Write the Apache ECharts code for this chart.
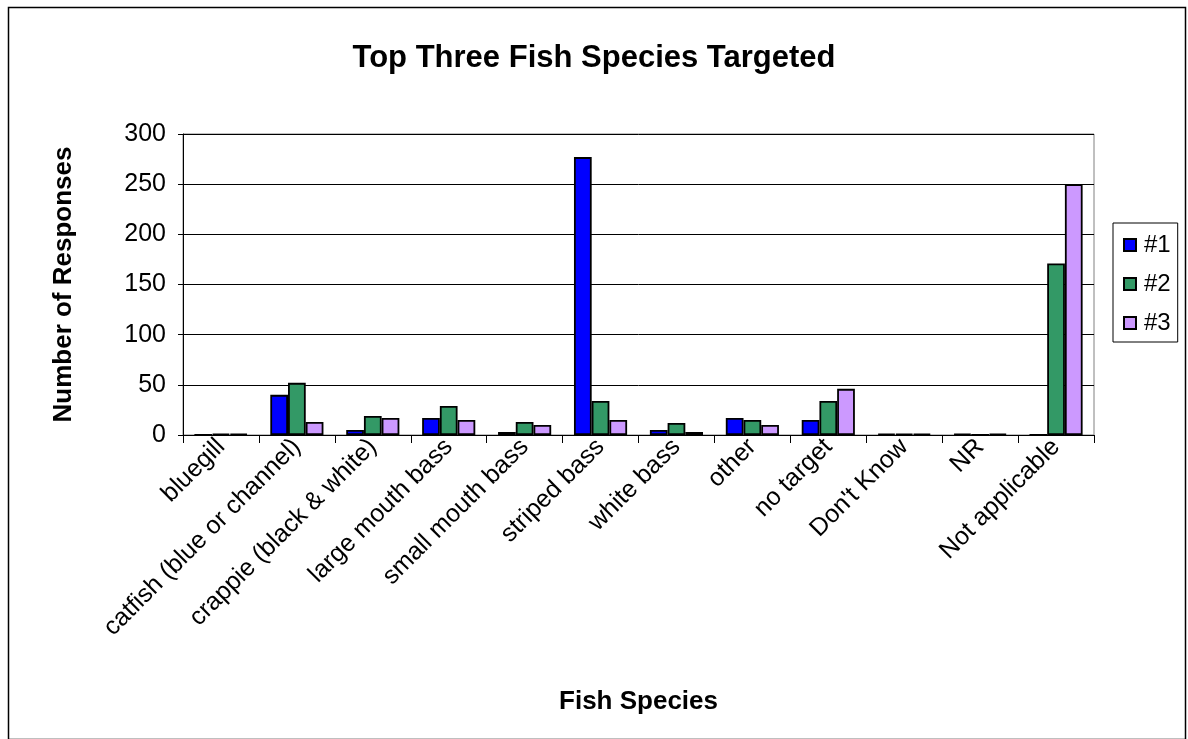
<!DOCTYPE html>
<html>
<head>
    <meta charset="utf-8">
    <title>Top Three Fish Species Targeted</title>
    <script src="https://cdn.jsdelivr.net/npm/echarts@6/dist/echarts.min.js"></script>
    <style>
        html, body { margin: 0; padding: 0; background: #fff; }
        #chart { width: 1188px; height: 739px; }
    </style>
</head>
<body>
<div id="chart"></div>
<script>
    // data
    var species = ['bluegill', 'catfish (blue or channel)', 'crappie (black & white)', 'large mouth bass',
        'small mouth bass', 'striped bass', 'white bass', 'other', 'no target', "Don't Know", 'NR', 'Not applicable'];
    var first  = [0, 40, 5, 17, 3, 277, 5, 17, 15, 1, 1, 0];
    var second = [1, 52, 19, 29, 13, 34, 12, 15, 34, 1, 0, 171];
    var third  = [1, 13, 17, 15, 10, 15, 3, 10, 46, 1, 1, 250];
    var yTicks = [0, 50, 100, 150, 200, 250, 300];

    var font = 'Liberation Sans, Arial, sans-serif';
    var myChart = echarts.init(document.getElementById('chart'));

    function bar(name, data, color) {
        return {
            name: name,
            type: 'bar',
            data: data,
            barGap: '0%',
            barCategoryGap: '30%',
            itemStyle: { color: color, borderColor: '#000', borderWidth: 1.8 }
        };
    }

    var option = {
        animation: false,
        backgroundColor: '#fff',
        title: {
            text: 'Top Three Fish Species Targeted',
            left: 'center',
            top: 38,
            textStyle: { fontFamily: font, fontSize: 31, fontWeight: 'bold', color: '#000' }
        },
        legend: {
            orient: 'vertical',
            left: 1113,
            top: 223,
            padding: [10, 7, 7, 10],
            itemGap: 15,
            itemWidth: 12,
            itemHeight: 12,
            icon: 'rect',
            borderColor: '#000',
            borderWidth: 1,
            textStyle: { fontFamily: font, fontSize: 24, color: '#000', lineHeight: 24, padding: [0, 0, 0, 3] },
            data: ['#1', '#2', '#3']
        },
        grid: { left: 183, right: 94, top: 134, bottom: 304, containLabel: false },
        xAxis: {
            type: 'category',
            data: species,
            name: 'Fish Species',
            nameLocation: 'middle',
            nameGap: 254,
            nameTextStyle: { fontFamily: font, fontSize: 26, fontWeight: 'bold', color: '#000' },
            axisLine: { lineStyle: { color: '#000', width: 1 } },
            axisTick: { show: true, length: 8, lineStyle: { color: '#000' } },
            axisLabel: { rotate: 45, margin: 8, fontFamily: font, fontSize: 25, color: '#000', interval: 0 }
        },
        yAxis: {
            type: 'value',
            min: yTicks[0],
            max: yTicks[yTicks.length - 1],
            interval: yTicks[1] - yTicks[0],
            name: 'Number of Responses',
            nameLocation: 'middle',
            nameGap: 106,
            nameTextStyle: { fontFamily: font, fontSize: 26, fontWeight: 'bold', color: '#000' },
            axisLine: { show: true, lineStyle: { color: '#000', width: 1 } },
            axisTick: { show: true, length: 5, lineStyle: { color: '#000' } },
            axisLabel: { margin: 17, fontFamily: font, fontSize: 25, color: '#000' },
            splitLine: { lineStyle: { color: '#000', width: 1 } }
        },
        graphic: [
            {
                type: 'rect',
                shape: { x: 8.5, y: 7.5, width: 1177, height: 732 },
                style: { fill: null, stroke: '#000', lineWidth: 1.5 },
                silent: true
            },
            {
                type: 'rect',
                shape: { x: 183, y: 134, width: 911, height: 301 },
                style: { fill: null, stroke: '#808080', lineWidth: 1 },
                silent: true,
                z: -1
            }
        ],
        series: [
            bar('#1', first, '#0000FF'),
            bar('#2', second, '#339966'),
            bar('#3', third, '#CC99FF')
        ]
    };
    myChart.setOption(option);
</script>
</body>
</html>
